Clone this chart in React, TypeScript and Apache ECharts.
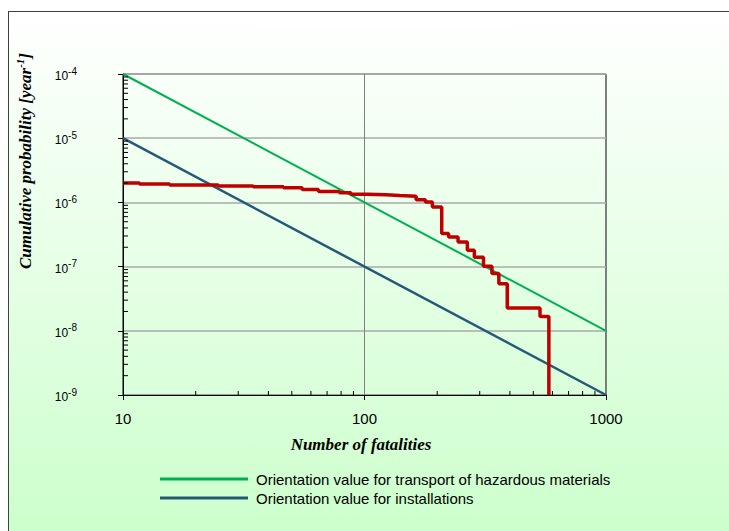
import React, { useEffect, useRef } from "react";
import * as echarts from "echarts";

// ---- data ----
const xRange = [10, 1000];
const yRange = [1e-9, 1e-4];

// Orientation lines (fatalities, probability)
const transportLine = [
  [10, 1e-4],
  [1000, 1e-8],
];
const installationLine = [
  [10, 1e-5],
  [1000, 1e-9],
];

// Step curve (fatalities where a level starts, cumulative probability)
const stepX = [10, 11.7, 15.6, 24.8, 34.6, 46.2, 55.2, 64.5, 78.7, 87.9, 102.7, 122.6, 140, 163.6, 178.7, 191, 208.8, 223, 244, 266.6, 285, 311, 337, 360, 390, 533, 580];
const stepY = [2.0e-6, 1.93e-6, 1.86e-6, 1.8e-6, 1.75e-6, 1.69e-6, 1.59e-6, 1.48e-6, 1.41e-6, 1.34e-6, 1.31e-6, 1.28e-6, 1.25e-6, 1.1e-6, 1.01e-6, 8.45e-7, 3.28e-7, 2.9e-7, 2.42e-7, 1.79e-7, 1.4e-7, 1.01e-7, 7.8e-8, 5.4e-8, 2.26e-8, 1.67e-8, 1e-9];

const xMinorTicks = [20, 30, 40, 50, 60, 70, 80, 90, 200, 300, 400, 500, 600, 700, 800, 900];
const yDecades = [1e-9, 1e-8, 1e-7, 1e-6, 1e-5];
const yMultipliers = [2, 3, 4, 5, 6, 7, 8, 9];

const legendNames = [
  "Orientation value for transport of hazardous materials",
  "Orientation value for installations",
];
const xTitle = "Number of fatalities";

const SANS = "'Liberation Sans', Arial, sans-serif";
const SERIF = "'Liberation Serif', 'Times New Roman', serif";

export default function App() {
  const ref = useRef<HTMLDivElement>(null);

  useEffect(() => {
    if (!ref.current) return;
    const chart = echarts.init(ref.current, undefined, { renderer: "svg" });

    const stepData = stepX.map((x, i) => [x, stepY[i]]);
    const xMinorData = xMinorTicks.map((x) => [x, yRange[0]]);
    const yMinorData: number[][] = [];
    yDecades.forEach((d) =>
      yMultipliers.forEach((m) => yMinorData.push([xRange[0], d * m]))
    );

    chart.setOption({
      animation: false,
      backgroundColor: "transparent",
      grid: {
        left: 123,
        right: 123,
        top: 74,
        bottom: 136,
        show: true,
        borderColor: "#000",
        borderWidth: 1,
        backgroundColor: "transparent",
      },
      xAxis: {
        type: "log",
        logBase: 10,
        min: xRange[0],
        max: xRange[1],
        splitNumber: 2,
        axisLine: { show: true, lineStyle: { color: "#000", width: 1 } },
        axisTick: { show: true, length: 5, lineStyle: { color: "#000" } },
        axisLabel: {
          margin: 16,
          fontFamily: SANS,
          fontSize: 15,
          color: "#000",
          formatter: (v: number) => String(Math.round(v)),
        },
        splitLine: { show: true, lineStyle: { color: "#808080", width: 1 } },
        minorTick: { show: false },
      },
      yAxis: {
        type: "log",
        logBase: 10,
        min: yRange[0],
        max: yRange[1],
        splitNumber: 5,
        axisLine: { show: true, lineStyle: { color: "#000", width: 1 } },
        axisTick: { show: true, length: 5, lineStyle: { color: "#000" } },
        axisLabel: {
          margin: 46,
          color: "#000",
          formatter: (v: number) => {
            const e = Math.round(Math.log10(v));
            return `{b|10}{s|${e}}`;
          },
          rich: {
            b: { fontFamily: SANS, fontSize: 12, color: "#000", lineHeight: 16, verticalAlign: "bottom" },
            s: { fontFamily: SANS, fontSize: 10, color: "#000", lineHeight: 16, verticalAlign: "top" },
          },
        },
        splitLine: { show: true, lineStyle: { color: "#aaaaaa", width: 1.5 } },
      },
      legend: {
        orient: "vertical",
        left: 160,
        top: 471,
        padding: 0,
        itemGap: 3,
        itemWidth: 88,
        itemHeight: 3,
        icon: "rect",
        data: legendNames,
        textStyle: { fontFamily: SANS, fontSize: 15, color: "#000", lineHeight: 16, padding: [0, 0, 0, 3] },
      },
      graphic: [
        {
          type: "text",
          x: 24,
          y: 161,
          rotation: Math.PI / 2,
          style: {
            text: "{t|Cumulative probability [year}{s|-1}{t|]}",
            align: "center",
            verticalAlign: "middle",
            rich: {
              t: { fontFamily: SERIF, fontSize: 17, fontWeight: "bold", fontStyle: "italic", fill: "#000", lineHeight: 20, verticalAlign: "bottom" },
              s: { fontFamily: SERIF, fontSize: 11, fontWeight: "bold", fontStyle: "italic", fill: "#000", lineHeight: 20, verticalAlign: "top" },
            },
          },
        },
        {
          type: "text",
          x: 361,
          y: 444,
          style: {
            text: xTitle,
            align: "center",
            verticalAlign: "middle",
            fontFamily: SERIF,
            fontSize: 17,
            fontWeight: "bold",
            fontStyle: "italic",
            fill: "#000",
          },
        },
      ],
      series: [
        {
          name: legendNames[0],
          type: "line",
          data: transportLine,
          symbol: "none",
          color: "#00b050",
          lineStyle: { color: "#00b050", width: 2 },
          z: 3,
        },
        {
          name: legendNames[1],
          type: "line",
          data: installationLine,
          symbol: "none",
          color: "#245a78",
          lineStyle: { color: "#245a78", width: 2.5 },
          z: 3,
        },
        {
          name: "risk",
          type: "line",
          step: "end",
          data: stepData,
          symbol: "none",
          lineStyle: { color: "#c00000", width: 3.5 },
          z: 4,
        },
        {
          name: "xminor",
          type: "custom",
          data: xMinorData,
          silent: true,
          z: 5,
          renderItem: (params: any, api: any) => {
            const p = api.coord([api.value(0), api.value(1)]);
            return {
              type: "line",
              shape: { x1: p[0], y1: p[1], x2: p[0], y2: p[1] - 4 },
              style: { stroke: "#000", lineWidth: 1 },
            };
          },
        },
        {
          name: "yminor",
          type: "custom",
          data: yMinorData,
          silent: true,
          z: 5,
          renderItem: (params: any, api: any) => {
            const p = api.coord([api.value(0), api.value(1)]);
            return {
              type: "line",
              shape: { x1: p[0], y1: p[1], x2: p[0] + 5, y2: p[1] },
              style: { stroke: "#000", lineWidth: 1 },
            };
          },
        },
      ],
    });

    return () => chart.dispose();
  }, []);

  return (
    <div style={{ position: "fixed", left: 0, top: 0, width: 729, height: 531, background: "#fff", overflow: "hidden" }}>
      <div
        style={{
          position: "absolute",
          left: 8,
          top: 11,
          width: 800,
          height: 600,
          borderLeft: "1px solid #404040",
          borderTop: "1px solid #404040",
          background: "linear-gradient(to bottom, #ffffff 0px, #ccffcc 520px)",
        }}
      />
      <div ref={ref} style={{ position: "absolute", left: 0, top: 0, width: 729, height: 531 }} />
    </div>
  );
}
